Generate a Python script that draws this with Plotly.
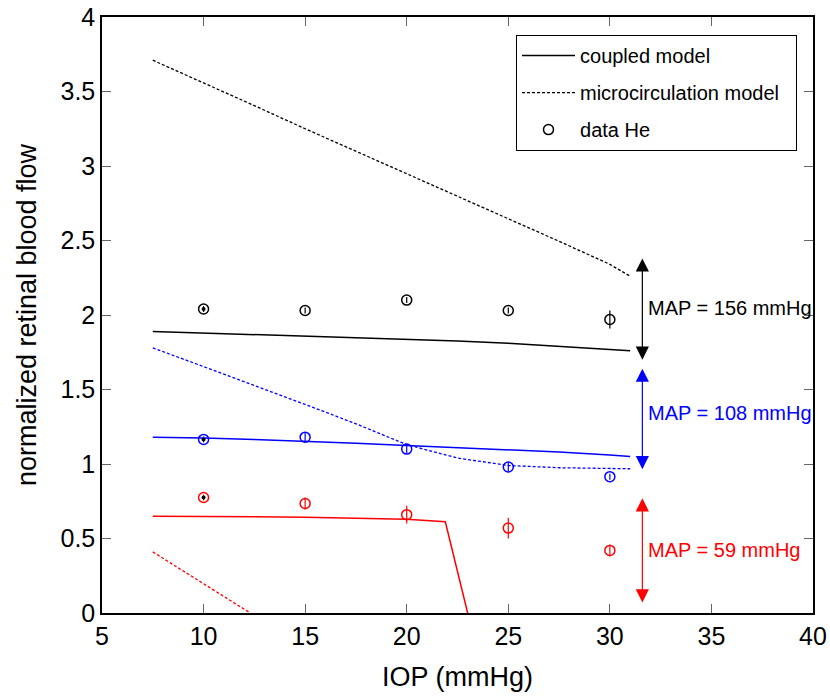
import plotly.graph_objects as go

# ---- data ----
iop_data = [10, 15, 20, 25, 30]
data_156 = [2.04, 2.03, 2.10, 2.03, 1.97]
err_156 = [0.02, 0.02, 0.02, 0.02, 0.06]
data_108 = [1.165, 1.18, 1.10, 0.98, 0.915]
err_108 = [0.02, 0.03, 0.03, 0.03, 0.02]
data_59 = [0.775, 0.735, 0.66, 0.57, 0.42]
err_59 = [0.02, 0.04, 0.06, 0.07, 0.04]

iop_model = [7.5, 10, 12.5, 15, 17.5, 20, 22.5, 25, 27.5, 30, 31]
coupled_156 = [1.89, 1.88, 1.87, 1.86, 1.85, 1.84, 1.825, 1.81, 1.79, 1.77, 1.76]
micro_156 = [3.71, 3.56, 3.405, 3.25, 3.10, 2.95, 2.80, 2.65, 2.495, 2.34, 2.26]
coupled_108 = [1.18, 1.175, 1.165, 1.155, 1.14, 1.125, 1.11, 1.095, 1.08, 1.06, 1.05]
micro_108 = [1.78, 1.655, 1.53, 1.40, 1.27, 1.13, 1.04, 0.99, 0.975, 0.97, 0.968]

iop_coupled_59 = [7.5, 10, 15, 20, 21.9, 23.0]
coupled_59 = [0.65, 0.648, 0.643, 0.63, 0.612, 0.0]
iop_micro_59 = [7.5, 12.3]
micro_59 = [0.41, 0.0]

arrow_x = 31.6
arrows = [  # (top, bottom, color, label, label_y)
    (2.38, 1.69, "black", "MAP = 156 mmHg", 2.05),
    (1.64, 0.955, "blue", "MAP = 108 mmHg", 1.34),
    (0.77, 0.06, "red", "MAP = 59 mmHg", 0.42),
]

FONT = "Liberation Sans, Arial, Helvetica, sans-serif"
DASH = "3px,2px"
fig = go.Figure()

# legend entries (black)
fig.add_trace(go.Scatter(x=iop_model, y=coupled_156, mode="lines", name="coupled model",
                         legendgroup="a", line=dict(color="black", width=1.5)))
fig.add_trace(go.Scatter(x=iop_model, y=micro_156, mode="lines", name="microcirculation model\u00a0\u00a0",
                         legendgroup="b", line=dict(color="black", width=1.3, dash=DASH)))
fig.add_trace(go.Scatter(x=iop_data, y=data_156, mode="markers", name="data He", legendgroup="c",
                         marker=dict(symbol="circle-open", size=10, color="black", line=dict(width=1.5)),
                         error_y=dict(type="data", array=err_156, width=0, thickness=1.2, color="black")))

for xs, ys, col, dash in [
    (iop_model, coupled_108, "blue", None),
    (iop_model, micro_108, "blue", DASH),
    (iop_coupled_59, coupled_59, "red", None),
    (iop_micro_59, micro_59, "red", DASH),
]:
    fig.add_trace(go.Scatter(x=xs, y=ys, mode="lines", showlegend=False,
                             line=dict(color=col, width=1.5 if dash is None else 1.3, dash=dash)))

for ys, es, col in [(data_108, err_108, "blue"), (data_59, err_59, "red")]:
    fig.add_trace(go.Scatter(x=iop_data, y=ys, mode="markers", showlegend=False,
                             marker=dict(symbol="circle-open", size=10, color=col, line=dict(width=1.5)),
                             error_y=dict(type="data", array=es, width=0, thickness=1.2, color=col)))

# centre dots at IOP=10
fig.add_trace(go.Scatter(x=[10, 10, 10], y=[data_156[0], data_108[0], data_59[0]], mode="markers",
                         showlegend=False, marker=dict(size=4, color="black")))

for top, bot, col, label, ly in arrows:
    fig.add_annotation(x=arrow_x, y=top, ax=arrow_x, ay=bot, xref="x", yref="y", axref="x", ayref="y",
                       showarrow=True, arrowhead=2, startarrowhead=2, arrowside="end+start",
                       arrowsize=2.2, startarrowsize=2.2, arrowwidth=1.2, arrowcolor=col, text="")
    fig.add_annotation(x=arrow_x + 0.2, y=ly, xref="x", yref="y", text=label, showarrow=False,
                       xanchor="left", font=dict(family=FONT, size=20, color=col))

axis_common = dict(showline=True, linecolor="black", linewidth=1.5, mirror="allticks",
                   ticks="inside", ticklen=9, tickcolor="#666", showgrid=False, zeroline=False,
                   automargin=False, tickfont=dict(family=FONT, size=25, color="black"))
fig.update_xaxes(range=[5, 40], dtick=5,
                 title=dict(text="IOP (mmHg)", font=dict(family=FONT, size=27, color="black"), standoff=18),
                 **axis_common)
fig.update_yaxes(range=[0, 4], dtick=0.5,
                 title=dict(text="normalized retinal blood flow", font=dict(family=FONT, size=27, color="black"), standoff=16),
                 **axis_common)

fig.update_layout(
    width=830, height=696, plot_bgcolor="white", paper_bgcolor="white",
    margin=dict(l=102, r=17, t=17, b=83),
    legend=dict(x=0.582, y=0.97, xanchor="left", yanchor="top", bordercolor="black", borderwidth=1.2,
                bgcolor="white", font=dict(family=FONT, size=20, color="black"),
                itemwidth=53, tracegroupgap=8),
)

fig.write_html("out.html")
